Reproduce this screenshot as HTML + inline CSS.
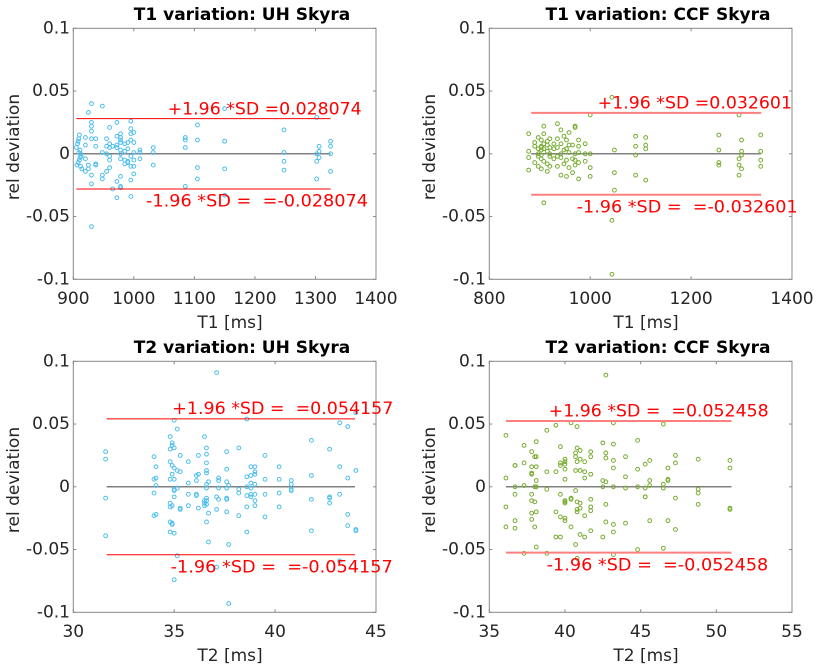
<!DOCTYPE html>
<html><head><meta charset="utf-8"><style>
html,body{margin:0;padding:0;background:#fff;}
svg{display:block;font-family:"DejaVu Sans","Liberation Sans",sans-serif;}
svg text{white-space:pre;}
</style></head><body>
<svg id="fig" width="832" height="666" viewBox="0 0 832 666" xmlns="http://www.w3.org/2000/svg" xml:space="preserve"></svg>
<script>
// ---- data: plot 1 (T1 UH) ----
const p1x = [905,907,908,909,910,911,912,913,910,908,906,912,914,909,911,
920,920,920,920, 925,925,925, 930,930,930,930,930,930,930,930,
937,937,937,937, 948,948,948,948, 955,955,955,955, 960,960,960,960,960,960, 965,965,
972,972,972,972,972,972, 978,978,978,978,978,978,978,978,978,978, 985,985,985,985,
990,990,990,990, 995,995,995,995,995,995,995,995, 1000,1000,1000,1000,1000,1000,
1010,1010,1010, 1032,1032,1032, 1085,1085,1085,1085, 1105,1105,1105,1105,
1150,1150,1150,1150, 1248,1248,1248,1248, 1302,1302,1302,1302, 1306,1306,1306, 1325,1325,1325,1325];
const p1y = [0.005,0.008,0.01,0.012,0.015,0.003,0,-0.002,-0.005,-0.007,-0.009,-0.01,-0.012,0.001,-0.003,
0.013,0.007,-0.004,-0.014, 0.033,-0.009,-0.012, 0.018,0.025,0.022,0.012,-0.017,-0.024,-0.058,0.04,
0.012,0.006,-0.008,-0.009, 0.038,0.001,-0.017,-0.02, 0.012,0.006,0,-0.014, 0.008,0.005,-0.002,-0.005,-0.011,0.021, 0.006,-0.028,
0.025,0.014,0.007,0.005,-0.022,-0.035, 0.016,0.013,0.009,0.003,0,-0.004,-0.018,-0.026,-0.027,0.011, 0.008,0.002,-0.005,-0.008,
0.009,0.004,-0.007,-0.006, 0.026,0.02,0.011,0.016,-0.002,-0.01,-0.021,-0.034, 0.017,0.009,0.001,-0.005,-0.01,-0.016,
0.003,0.001,-0.004, 0.005,0.001,-0.009, 0.013,0.011,0.005,-0.026, 0.023,0.011,-0.011,-0.02,
0.036,0.01,-0.012,-0.033, 0.019,0.001,-0.006,-0.013, 0.029,0,-0.006,-0.02, 0.006,0.002,-0.003, 0.01,0.006,0,-0.014];
// ---- data: plot 2 (T1 CCF) ----
const p2x = [878,878,878,878, 890,890,890, 897,897,897,897,897, 903,903,903,903,903,903,903,
908,908,908,908,908,908, 915,915,915,915,915, 920,920,920,920,920, 928,928,928,
935,935,935,935,935, 942,942,942,942,942, 948,948,948, 953,953,953,953, 958,958,958,958,
965,965,965, 970,970,970,970,970, 977,977,977,977,977, 990,990,990, 1000,1000,1000,1000,
1043,1043,1043, 1048,1048,1048, 1090,1090,1090,1090, 1110,1110,1110,1110,
1255,1255,1255,1255, 1295,1295,1295,1295, 1300,1300,1300,1300, 1338,1338,1338,1338];
const p2y = [0.016,0.002,-0.003,-0.013, 0.006,0.009,-0.007, 0.013,0.004,0,-0.002,-0.01, 0.006,0.005,0.003,-0.001,-0.004,-0.012,0.011,
0.022,0.016,0.008,0.004,-0.006,-0.039, 0.01,0.007,0.002,-0.008,-0.014, 0.012,0.005,0,-0.002,-0.01, 0.008,0.004,-0.004,
0.024,0.012,0.005,-0.002,-0.01, 0.019,0.008,0,-0.003,-0.017, 0.014,0.003,-0.008, 0.011,0.004,-0.005,-0.018, 0.017,0.007,0.001,-0.011,
0.007,-0.004,-0.015, 0.022,0.021,0,-0.005,-0.009, 0.011,0.006,0.001,-0.007,-0.02, 0.008,0,-0.006, 0.031,0,-0.011,-0.018,
0.045,-0.053,-0.096, 0.003,-0.015,-0.029, 0.014,0.006,-0.001,-0.017, 0.013,0.007,0.004,-0.021,
0.015,0.003,-0.007,-0.009, 0.031,-0.004,-0.009,-0.017, 0.011,0.002,-0.001,-0.012, 0.015,0.002,-0.005,-0.01];
// ---- data: plot 3 (T2 UH) ----
const p3x = [31.6,31.6,31.6,31.6, 34.0,34.0,34.0,34.0, 34.1,34.1,34.1,34.1, 34.8,34.8,34.8,34.8,34.8,34.8,34.8,34.8,
34.9,34.9,34.9,34.9,34.9,34.9,34.9, 35.0,35.0,35.0,35.0,35.0,35.0,35.0,35.0,35.0, 35.15,35.15,35.15,35.15,
35.3,35.3,35.3,35.3, 35.7,35.7,35.7,35.7, 36.1,36.1,36.1,36.1, 36.2,36.2,36.2, 36.5,36.5,36.5,36.5,
36.6,36.6,36.6,36.6,36.6,36.6,36.6,36.6,36.6,36.6,36.6, 36.7,36.7,36.7, 37.1,37.1,37.1,37.1, 37.2,37.2,37.2,37.2,
37.6,37.6,37.6,37.6,37.6,37.6,37.6, 37.7,37.7,37.7, 38.2,38.2,38.2,38.2, 38.6,38.6,38.6,38.6,38.6,38.6,
38.8,38.8,38.8,38.8,38.8,38.8, 39.0,39.0,39.0,39.0,39.0,39.0,39.0, 39.5,39.5,39.5,39.5, 40.2,40.2,40.2,40.2,
40.8,40.8,40.8,40.8, 41.8,41.8,41.8,41.8, 42.7,42.7,42.7,42.7, 43.2,43.2,43.2,43.2, 43.6,43.6,43.6,43.6, 44.0,44.0,44.0,44.0];
const p3y = [0.028,0.022,-0.009,-0.039, 0.024,0.006,-0.005,-0.023, 0.016,0.007,0.001,-0.022, 0.04,0.03,0.02,0.006,-0.013,-0.028,-0.036,-0.016,
0.035,0.033,0.017,0.01,-0.015,-0.03,-0.029, 0.053,0.031,0.015,0.006,-0.002,-0.008,-0.037,-0.074,-0.003, 0.046,0.013,-0.001,-0.055,
0.025,0.012,-0.017,-0.018, 0.02,0.003,-0.006,-0.015, 0.009,0.005,-0.006,-0.007, 0.025,0.01,-0.017, 0.04,-0.011,-0.013,-0.015,
0.031,0.026,0.019,0.013,0.011,0.002,-0.001,-0.009,-0.011,-0.014,-0.028, 0.004,-0.021,-0.044, 0.091,-0.008,-0.018,-0.064, 0.007,0.005,-0.001,-0.01,
0.028,0.014,0.004,-0.001,-0.009,-0.01,-0.02, 0.001,-0.046,-0.093, 0.031,-0.002,-0.005,-0.023, 0.054,0.008,0,-0.007,-0.016,-0.036,
0.016,0.009,0.003,-0.001,-0.006,-0.008, 0.016,0.012,0.01,0.002,-0.006,-0.011,-0.015, 0.025,0.006,-0.006,-0.024, 0.016,0.006,-0.005,-0.016,
0.005,0.002,-0.002,-0.003, 0.037,0.009,-0.01,-0.035, 0.03,-0.008,-0.009,-0.013, 0.051,0.016,-0.006,-0.059, 0.048,0.007,-0.022,-0.031, 0.059,0.013,-0.034,-0.035];
// ---- data: plot 4 (T2 CCF) ----
const p4x = [36.1,36.1,36.1,36.1, 36.7,36.7,36.7,36.7,36.7,36.7, 37.3,37.3,37.3,37.3, 37.8,37.8,37.8,37.8,37.8,37.8,37.8,37.8,
38.0,38.0,38.0,38.0, 38.1,38.1,38.1,38.1,38.1,38.1,38.1, 38.8,38.8,38.8,38.8, 39.4,39.4,39.4,39.4, 39.7,39.7,39.7,39.7,39.7,39.7,
40.0,40.0,40.0,40.0,40.0,40.0,40.0,40.0,40.0,40.0, 40.4,40.4,40.4,40.4, 40.7,40.7,40.7,40.7,40.7, 40.8,40.8,40.8,40.8,40.8,40.8,40.8,
41.0,41.0,41.0,41.0,41.0,41.0, 41.3,41.3,41.3,41.3,41.3, 41.7,41.7,41.7,41.7,41.7,41.7,41.7, 42.5,42.5,42.5,42.5,
42.7,42.7,42.7,42.7,42.7,42.7, 43.2,43.2,43.2,43.2,43.2,43.2,43.2,43.2, 44.0,44.0,44.0,44.0, 44.8,44.8,44.8,44.8,
45.3,45.3,45.3,45.3, 45.6,45.6,45.6,45.6, 46.5,46.5,46.5,46.5, 46.8,46.8,46.8,46.8, 47.3,47.3,47.3,47.3, 48.8,48.8,48.8,48.8, 50.9,50.9,50.9,50.9];
const p4y = [0.041,0.007,-0.016,-0.032, 0.017,0.017,0,-0.006,-0.027,-0.033, 0.033,0.019,0.001,-0.053, 0.028,0.016,0.011,0.01,-0.006,-0.011,-0.021,-0.026,
0.024,0,-0.032,-0.012, 0.036,0.024,0.016,0.005,0,-0.02,-0.048, 0.045,0.012,-0.002,-0.053, 0.049,0.012,-0.02,-0.04, 0.032,0.019,0.017,-0.006,-0.024,-0.04,
0.022,0.02,0.018,0.014,0.006,-0.011,-0.012,-0.025,-0.027,-0.013, 0.051,-0.009,-0.01,-0.032, 0.027,0.024,0.013,-0.003,-0.046, 0.048,0.031,0.02,-0.012,-0.02,-0.018,-0.057,
0.029,0.022,0.013,-0.013,-0.017,-0.038, 0.02,0.007,0.012,-0.023,-0.04, 0.028,0.024,0.01,-0.01,-0.016,-0.035,-0.019, 0.035,0.005,0,-0.04,
0.089,0.027,0.023,0.004,-0.014,-0.028, 0.051,0.034,0.021,0.015,0,-0.03,-0.036,-0.054, 0.024,0.008,-0.001,-0.029, 0.037,0.014,0,-0.05,
0.018,-0.001,-0.008,-0.008, 0.021,0.005,0.001,-0.027, 0.05,0.002,-0.001,-0.049, 0.015,0.006,0.005,-0.027, 0.025,0.019,-0.009,-0.034, 0.022,-0.002,-0.005,-0.014, 0.021,0.015,-0.017,-0.018];
const yTicks = [-0.1,-0.05,0,0.05,0.1];
const yTickLabels = ["-0.1","-0.05","0","0.05","0.1"];
const titles = ["T1 variation: UH Skyra","T1 variation: CCF Skyra","T2 variation: UH Skyra","T2 variation: CCF Skyra"];
const xLabels = ["T1 [ms]","T1 [ms]","T2 [ms]","T2 [ms]"];
const xTicks1 = [900,1000,1100,1200,1300,1400];
const xTicks2 = [800,1000,1200,1400];
const xTicks3 = [30,35,40,45];
const xTicks4 = [35,40,45,50,55];
const sdValues = [0.028074,0.032601,0.054157,0.052458];
const upperTexts = ["+1.96 *SD =0.028074","+1.96 *SD =0.032601","+1.96 *SD =  =0.054157","+1.96 *SD =  =0.052458"];
const lowerTexts = ["-1.96 *SD =  =-0.028074","-1.96 *SD =  =-0.032601","-1.96 *SD =  =-0.054157","-1.96 *SD =  =-0.052458"];

const NS="http://www.w3.org/2000/svg";
const svg=document.getElementById('fig');
function mk(tag,attrs,parent){const e=document.createElementNS(NS,tag);for(const k in attrs)e.setAttribute(k,attrs[k]);(parent||svg).appendChild(e);return e;}

const panels=[
 {ox:0,oy:0,xmin:900,xmax:1400,ticks:xTicks1,xs:p1x,ys:p1y,col:'#4DBEEE',lx:[905,1325],zx:[900,1325],lw:1,lc:'#ff0000',
  ut:[167.7,114.3,194],lt:[146,206.7,222]},
 {ox:416,oy:0,xmin:800,xmax:1400,ticks:xTicks2,xs:p2x,ys:p2y,col:'#77AC30',lx:[883,1339],zx:[883,1339],lw:2,lc:'#ff8080',
  ut:[181.7,108.3,194.3],lt:[160.7,212.3,221]},
 {ox:0,oy:333,xmin:30,xmax:45,ticks:xTicks3,xs:p3x,ys:p3y,col:'#4DBEEE',lx:[31.65,43.96],zx:[31.65,43.96],lw:1,lc:'#ff0000',
  ut:[172.3,81,221],lt:[170.7,239.3,222]},
 {ox:416,oy:333,xmin:35,xmax:55,ticks:xTicks4,xs:p4x,ys:p4y,col:'#77AC30',lx:[36.1,51],zx:[36.1,51],lw:2,lc:'#ff8080',
  ut:[132.7,83.3,220],lt:[130.7,237.3,221.6]}
];
const L=73.3,R=376,T=28.3,B=279.3;
panels.forEach((p,i)=>{
  const g=mk('g',{transform:`translate(${p.ox},${p.oy})`});
  
  
  const X=v=>L+(v-p.xmin)/(p.xmax-p.xmin)*(R-L);
  const Y=v=>B-(v+0.1)/0.2*(B-T);
  p.ticks.forEach((t,j)=>{
    const x=X(t);
    mk('line',{x1:x,y1:B,x2:x,y2:B-3,stroke:'#888'},g);
    mk('line',{x1:x,y1:T,x2:x,y2:T+3,stroke:'#888'},g);
    const tx=mk('text',{x:x,y:299,'text-anchor':'middle','dominant-baseline':'central','font-size':'17',fill:'#262626'},g);
    tx.textContent=String(t);
    
    
  });
  yTicks.forEach((t,j)=>{
    const y=Y(t);
    mk('line',{x1:L,y1:y,x2:L+3,y2:y,stroke:'#888'},g);
    mk('line',{x1:R,y1:y,x2:R-3,y2:y,stroke:'#888'},g);
    const tx=mk('text',{x:70,y:y,'text-anchor':'end','dominant-baseline':'central','font-size':'17',fill:'#262626'},g);
    tx.textContent=yTickLabels[j];
    
    
  });
  const box=mk('rect',{x:L,y:T,width:R-L,height:B-T,fill:'none',stroke:'#888','stroke-width':1},g);
  
  
  const z=mk('line',{x1:X(p.zx[0]),y1:Y(0),x2:X(p.zx[1]),y2:Y(0),stroke:'#808080','stroke-width':1.5},g);
  
  
  p.xs.forEach((xv,k)=>{
    const c=mk('circle',{cx:X(xv),cy:Y(p.ys[k]),r:1.9,fill:'none',stroke:p.col,'stroke-width':1},g);
    
    
  });
  const sd=sdValues[i];
  const u=mk('line',{x1:X(p.lx[0]),y1:Y(sd),x2:X(p.lx[1]),y2:Y(sd),stroke:p.lc,'stroke-width':p.lw},g);
  
  
  const lo=mk('line',{x1:X(p.lx[0]),y1:Y(-sd),x2:X(p.lx[1]),y2:Y(-sd),stroke:p.lc,'stroke-width':p.lw},g);
  
  
  const ut=mk('text',{x:p.ut[0],y:p.ut[1],'font-size':'17',fill:'#ff0000',textLength:p.ut[2],lengthAdjust:'spacingAndGlyphs'},g);
  ut.textContent=upperTexts[i];
  
  
  const lt=mk('text',{x:p.lt[0],y:p.lt[1],'font-size':'17',fill:'#ff0000',textLength:p.lt[2],lengthAdjust:'spacingAndGlyphs'},g);
  lt.textContent=lowerTexts[i];
  
  
  const ti=mk('text',{x:242,y:15,'text-anchor':'middle','dominant-baseline':'central','font-size':'17','font-weight':'bold',fill:'#000'},g);
  ti.textContent=titles[i];
  
  
  const xl=mk('text',{x:230,y:323,'text-anchor':'middle','dominant-baseline':'central','font-size':'17',fill:'#262626'},g);
  xl.textContent=xLabels[i];
  
  
  const yl=mk('text',{x:0,y:0,'text-anchor':'middle','dominant-baseline':'central','font-size':'17',fill:'#262626',transform:'translate(14,147) rotate(-90)'},g);
  yl.textContent='rel deviation';
  
  
});
</script>
</body></html>
